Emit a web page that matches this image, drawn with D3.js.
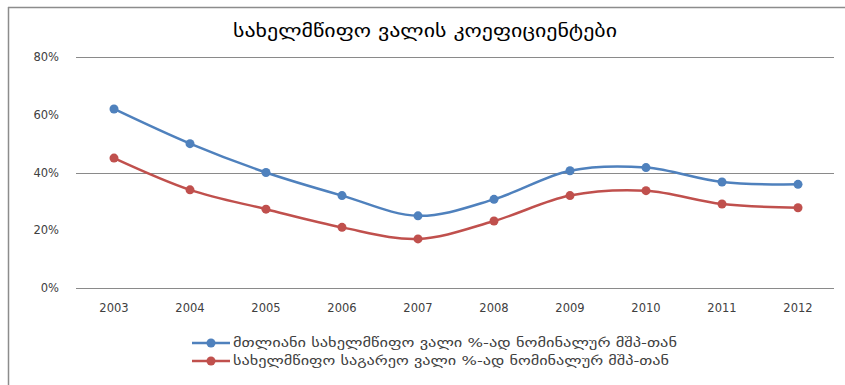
<!DOCTYPE html>
<html>
<head>
<meta charset="utf-8">
<script src="https://cdn.jsdelivr.net/npm/d3@7"></script>
<style>
html,body{margin:0;padding:0;background:#fff;}
svg{display:block;}
</style>
</head>
<body>
<svg id="chart" width="845" height="385"></svg>
<script>
const title = "სახელმწიფო ვალის კოეფიციენტები";
const years = ["2003","2004","2005","2006","2007","2008","2009","2010","2011","2012"];
const totalDebt = [62, 50, 40, 32, 25, 30.7, 40.6, 41.7, 36.7, 35.9];
const externalDebt = [45, 34, 27.3, 21, 17, 23.2, 32, 33.7, 29.1, 27.8];
const seriesNames = [
  "მთლიანი სახელმწიფო ვალი %-ად ნომინალურ მშპ-თან",
  "სახელმწიფო საგარეო ვალი %-ად ნომინალურ მშპ-თან"
];
const yLabelTicks = [0, 20, 40, 60, 80];
const yGridTicks = [0, 40, 80];
const colors = ["#4F81BD", "#C0504D"];

const svg = d3.select("#chart");
const font = "'DejaVu Sans', 'Noto Sans', sans-serif";

// frame (left and top edges)
svg.append("line").attr("x1", 8.5).attr("x2", 8.5).attr("y1", 7).attr("y2", 385)
  .attr("stroke", "#8c8c8c").attr("stroke-width", 1.5);
svg.append("line").attr("x1", 8).attr("x2", 845).attr("y1", 7.5).attr("y2", 7.5)
  .attr("stroke", "#8c8c8c").attr("stroke-width", 1.5);

const x = d3.scaleBand().domain(years).range([76, 836]);
const y = d3.scaleLinear().domain([0, 80]).range([288, 57]);

// gridlines
svg.append("g").selectAll("line").data(yGridTicks).join("line")
  .attr("x1", 76).attr("x2", 834)
  .attr("y1", d => Math.round(y(d)) + 0.5).attr("y2", d => Math.round(y(d)) + 0.5)
  .attr("stroke", "#8a8a8a").attr("stroke-width", 1);

// y labels
svg.append("g").selectAll("text").data(yLabelTicks).join("text")
  .attr("x", 59).attr("y", d => y(d) + 4)
  .attr("text-anchor", "end")
  .attr("font-family", font).attr("font-size", 11.5).attr("fill", "#404040")
  .text(d => d + "%");

// x labels
svg.append("g").selectAll("text").data(years).join("text")
  .attr("x", d => x(d) + x.bandwidth() / 2).attr("y", 312)
  .attr("text-anchor", "middle")
  .attr("font-family", font).attr("font-size", 11.5).attr("fill", "#404040")
  .text(d => d);

// title
svg.append("text").attr("x", 425).attr("y", 37).attr("text-anchor", "middle")
  .attr("font-family", font).attr("font-size", 18).attr("fill", "#000")
  .attr("textLength", 384).attr("lengthAdjust", "spacingAndGlyphs")
  .text(title);

const line = d3.line()
  .x((d, i) => x(years[i]) + x.bandwidth() / 2)
  .y(d => y(d))
  .curve(d3.curveCardinal);

[totalDebt, externalDebt].forEach((vals, k) => {
  const g = svg.append("g");
  g.append("path").datum(vals).attr("d", line)
    .attr("fill", "none").attr("stroke", colors[k]).attr("stroke-width", 2.5);
  g.selectAll("circle").data(vals).join("circle")
    .attr("cx", (d, i) => x(years[i]) + x.bandwidth() / 2)
    .attr("cy", d => y(d))
    .attr("r", 4.5).attr("fill", colors[k]);
});

// legend
const legend = svg.append("g");
const legendWidths = [444, 436];
seriesNames.forEach((name, k) => {
  const ly = 343 + k * 18;
  legend.append("line").attr("x1", 192).attr("x2", 230).attr("y1", ly).attr("y2", ly)
    .attr("stroke", colors[k]).attr("stroke-width", 2.5);
  legend.append("circle").attr("cx", 211).attr("cy", ly).attr("r", 4.5).attr("fill", colors[k]);
  legend.append("text").attr("x", 233).attr("y", ly + 4)
    .attr("font-family", font).attr("font-size", 12).attr("fill", "#404040")
    .attr("textLength", legendWidths[k]).attr("lengthAdjust", "spacingAndGlyphs")
    .text(name);
});
</script>
</body>
</html>
